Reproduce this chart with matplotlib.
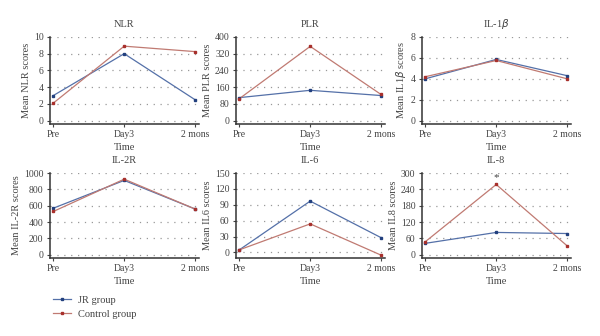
import matplotlib.pyplot as plt
from matplotlib.lines import Line2D

plt.rcParams['font.family'] = ['Liberation Serif', 'DejaVu Serif']

times = ['Pre', 'Day3', '2 mons']
titles = ['NLR', 'PLR', r'IL-1$\beta$', 'IL-2R', 'IL-6', 'IL-8']
ylabels = ['Mean NLR scores', 'Mean PLR scores', r'Mean IL1$\beta$ scores',
           'Mean IL-2R scores', 'Mean IL6 scores', 'Mean IL8 scores']
jr_values = [[3.0, 8.0, 2.5], [110, 145, 120], [4.0, 5.85, 4.3],
             [570, 910, 560], [5, 97, 28], [42, 82, 78]]
control_values = [[2.1, 8.9, 8.25], [105, 355, 125], [4.2, 5.75, 4.0],
                  [530, 925, 560], [5, 54, -5], [48, 258, 33]]
yticks = [[0, 2, 4, 6, 8, 10], [0, 80, 160, 240, 320, 400], [0, 2, 4, 6, 8],
          [0, 200, 400, 600, 800, 1000], [0, 30, 60, 90, 120, 150],
          [0, 60, 120, 180, 240, 300]]

blue_line, blue_mark = '#5470a8', '#22407e'
red_line, red_mark = '#c07a72', '#a8302c'
ink = '#444444'

fig = plt.figure(figsize=(6, 3.36), dpi=100)
lefts = [0.083, 0.393, 0.703]
bottoms = [0.631, 0.232]
heights = [0.259, 0.253]

for i in range(6):
    r, c = divmod(i, 3)
    ax = fig.add_axes([lefts[c], bottoms[r], 0.248, heights[r]])
    x = range(len(times))
    ax.plot(x, jr_values[i], '-', color=blue_line, lw=0.9, zorder=3)
    ax.plot(x, jr_values[i], 's', color=blue_mark, ms=2.0, zorder=4)
    ax.plot(x, control_values[i], '-', color=red_line, lw=0.9, zorder=3)
    ax.plot(x, control_values[i], 's', color=red_mark, ms=2.0, zorder=4)
    top = yticks[i][-1]
    span = top - yticks[i][0]
    lo = -0.04 * span if i != 4 else -0.07 * span
    ax.set_ylim(lo, top)
    ax.set_xlim(-0.05, 2.05)
    ax.set_yticks(yticks[i])
    ax.set_xticks(list(x))
    ax.set_xticklabels(times)
    for t in yticks[i]:
        ax.axhline(t, color='#999999', lw=0.9, ls=(0, (1, 4.5)), zorder=1)
    for s in ['top', 'right']:
        ax.spines[s].set_visible(False)
    for s in ['left', 'bottom']:
        ax.spines[s].set_color('#333333')
        ax.spines[s].set_linewidth(1.1)
    ax.tick_params(labelsize=7, colors=ink, length=2.5, width=0.8, pad=2)
    ax.set_title(titles[i], fontsize=7.5, color=ink, pad=7)
    ax.set_ylabel(ylabels[i], fontsize=7.5, color=ink, labelpad=2)
    ax.set_xlabel('Time', fontsize=7.5, color=ink, labelpad=3)
    if i == 5:
        ax.text(1, control_values[i][1] + 10, '*', ha='center', va='bottom',
                fontsize=8, color=ink)

handles = [Line2D([], [], color=blue_line, lw=0.9, marker='s', ms=2.0,
                  markerfacecolor=blue_mark, markeredgecolor=blue_mark),
           Line2D([], [], color=red_line, lw=0.9, marker='s', ms=2.0,
                  markerfacecolor=red_mark, markeredgecolor=red_mark)]
leg = fig.legend(handles, ['JR group', 'Control group'], loc='upper left',
                 bbox_to_anchor=(0.08, 0.135), frameon=False, fontsize=7.5,
                 handlelength=1.7, handletextpad=0.7, labelspacing=0.4,
                 borderpad=0)
for t in leg.get_texts():
    t.set_color(ink)

fig.savefig('out.png', dpi=100)
